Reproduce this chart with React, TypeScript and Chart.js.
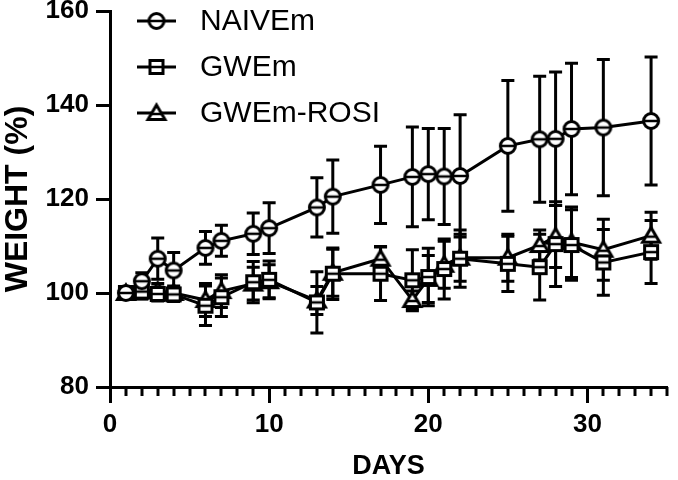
import React, { useEffect, useRef } from "react";
import { Chart, registerables } from "chart.js";
Chart.register(...registerables);

const days = [1, 2, 3, 4, 6, 7, 9, 10, 13, 14, 17, 19, 20, 21, 22, 25, 27, 28, 29, 31, 34];
const naiveMean = [100, 102.5, 107.3, 104.8, 109.6, 111.1, 112.6, 113.8, 118.2, 120.5, 123.0, 124.7, 125.3, 124.8, 124.9, 131.3, 132.7, 132.8, 134.9, 135.2, 136.6];
const naiveSd = [0, 1.8, 4.4, 3.8, 3.5, 3.3, 4.4, 5.4, 6.3, 7.8, 8.2, 10.6, 9.7, 10.2, 13.0, 13.9, 13.4, 14.2, 14.0, 14.5, 13.6];
const gwemMean = [100, 100.3, 99.8, 99.7, 97.3, 99.1, 102.3, 102.8, 98.0, 104.1, 104.1, 102.7, 103.4, 105.1, 107.3, 106.2, 105.5, 110.4, 110.2, 106.5, 108.7];
const gwemSd = [0, 1.5, 1.5, 1.5, 4.2, 4.1, 4.4, 4.0, 6.5, 5.5, 5.7, 6.5, 6.1, 6.4, 6.1, 5.9, 7.0, 9.0, 7.5, 7.0, 6.7];
const rosiMean = [100, 100.5, 100.5, 100, 98.5, 100.4, 102, 102.5, 98.4, 104.3, 107.3, 98.5, 103, 106, 107.5, 107.5, 110.2, 112, 110.8, 109.2, 112.2];
const rosiSd = [0, 1.8, 1.5, 1.5, 3.5, 3.5, 3.5, 3.5, 3.0, 5.0, 2.6, 1.9, 5.0, 5.0, 5.0, 5.0, 3.2, 6.6, 7.5, 6.5, 5.0];

const seriesNames = ["NAIVEm", "GWEm", "GWEm-ROSI"];
const seriesMarkers = ["circle", "square", "triangle"];
const xTickValues = [0, 10, 20, 30];
const yTickValues = [80, 100, 120, 140, 160];
const xTitle = "DAYS";
const yTitle = "WEIGHT (%)";

const meanSets = [naiveMean, gwemMean, rosiMean];
const sdSets = [naiveSd, gwemSd, rosiSd];

const FONT = '"Liberation Sans", Arial, Helvetica, sans-serif';

function makeMarker(kind: string): HTMLCanvasElement {
  const c = document.createElement("canvas");
  const s = 24;
  c.width = s;
  c.height = s;
  const ctx = c.getContext("2d")!;
  ctx.lineWidth = 3;
  ctx.strokeStyle = "#000";
  ctx.fillStyle = "#fff";
  const m = s / 2;
  ctx.beginPath();
  if (kind === "circle") {
    ctx.arc(m, m, 7.5, 0, Math.PI * 2);
  } else if (kind === "square") {
    ctx.rect(m - 6.5, m - 6.5, 13, 13);
  } else {
    ctx.moveTo(m, m - 8);
    ctx.lineTo(m + 8.5, m + 6.5);
    ctx.lineTo(m - 8.5, m + 6.5);
    ctx.closePath();
  }
  ctx.fill();
  ctx.stroke();
  ctx.beginPath();
  ctx.lineWidth = 2.5;
  const hw = kind === "triangle" ? 5 : 7;
  const hy = kind === "triangle" ? m + 1 : m;
  ctx.moveTo(m - hw, hy);
  ctx.lineTo(m + hw, hy);
  ctx.stroke();
  return c;
}

export default function App() {
  const ref = useRef<HTMLCanvasElement | null>(null);

  useEffect(() => {
    const canvas = ref.current;
    if (!canvas) return;
    const markers = seriesMarkers.map((k) => makeMarker(k));

    const errorBars = {
      id: "errorBars",
      beforeDatasetsDraw(chart: any) {
        const { ctx, scales } = chart;
        const x = scales.x;
        const y = scales.y;
        ctx.save();
        ctx.strokeStyle = "#000";
        ctx.lineWidth = 3;
        const cap = 6.5;
        sdSets.forEach((sd, di) => {
          const means = meanSets[di];
          days.forEach((d, i) => {
            if (!sd[i]) return;
            const px = x.getPixelForValue(d);
            const top = y.getPixelForValue(means[i] + sd[i]);
            const bot = y.getPixelForValue(means[i] - sd[i]);
            ctx.beginPath();
            ctx.moveTo(px, top);
            ctx.lineTo(px, bot);
            ctx.moveTo(px - cap, top);
            ctx.lineTo(px + cap, top);
            ctx.moveTo(px - cap, bot);
            ctx.lineTo(px + cap, bot);
            ctx.stroke();
          });
        });
        ctx.restore();
      },
    };

    const minorTicks = {
      id: "minorTicks",
      afterDraw(chart: any) {
        const { ctx, scales, chartArea } = chart;
        const x = scales.x;
        ctx.save();
        ctx.strokeStyle = "#000";
        ctx.lineWidth = 3;
        for (let d = x.min + 1; d <= x.max; d++) {
          if (d % 10 === 0) continue;
          const px = Math.round(x.getPixelForValue(d));
          ctx.beginPath();
          ctx.moveTo(px, chartArea.bottom);
          ctx.lineTo(px, chartArea.bottom + 9);
          ctx.stroke();
        }
        ctx.restore();
      },
    };

    const legend = {
      id: "customLegend",
      afterDraw(chart: any) {
        const { ctx } = chart;
        const rows = [21, 67, 113];
        ctx.save();
        seriesNames.forEach((name, i) => {
          const ry = rows[i];
          ctx.strokeStyle = "#000";
          ctx.lineWidth = 3;
          ctx.beginPath();
          ctx.moveTo(137, ry);
          ctx.lineTo(176, ry);
          ctx.stroke();
          const mk = markers[i];
          ctx.drawImage(mk, 156.5 - mk.width / 2, ry - mk.height / 2);
          ctx.fillStyle = "#000";
          ctx.font = `30px ${FONT}`;
          ctx.textBaseline = "middle";
          ctx.textAlign = "left";
          ctx.fillText(name, 200, ry + 1);
        });
        ctx.restore();
      },
    };

    const chart = new Chart(canvas, {
      type: "line",
      data: {
        datasets: seriesNames.map((name, i) => ({
          label: name,
          data: days.map((d, j) => ({ x: d, y: meanSets[i][j] })),
          borderColor: "#000",
          backgroundColor: "#fff",
          borderWidth: 3,
          pointStyle: markers[i] as any,
          pointRadius: 8,
          tension: 0,
          fill: false,
        })),
      },
      options: {
        responsive: false,
        animation: false,
        devicePixelRatio: 1,
        layout: { padding: { top: 10, right: 5, left: 0, bottom: 0 } },
        plugins: { legend: { display: false }, tooltip: { enabled: false } },
        scales: {
          x: {
            type: "linear",
            min: 0,
            max: 35,
            afterBuildTicks(s: any) {
              s.ticks = xTickValues.map((v) => ({ value: v }));
            },
            afterFit(s: any) {
              s.height = 93;
              s.paddingLeft = 0;
              s.paddingRight = 0;
            },
            ticks: {
              color: "#000",
              font: { family: FONT, size: 26, weight: "bold" },
              padding: 6,
              maxRotation: 0,
              autoSkip: false,
            },
            grid: { drawOnChartArea: false, tickLength: 16, tickWidth: 3, tickColor: "#000" },
            border: { color: "#000", width: 3 },
            title: {
              display: true,
              text: xTitle,
              color: "#000",
              font: { family: FONT, size: 27, weight: "bold", lineHeight: 1 },
              padding: { top: 0, bottom: 0 },
            },
          },
          y: {
            min: 80,
            max: 160,
            afterBuildTicks(s: any) {
              s.ticks = yTickValues.map((v) => ({ value: v }));
            },
            afterFit(s: any) {
              s.width = 110;
              s.paddingTop = 0;
              s.paddingBottom = 0;
            },
            ticks: {
              color: "#000",
              font: { family: FONT, size: 26, weight: "bold" },
              padding: 7,
            },
            grid: { drawOnChartArea: false, tickLength: 14, tickWidth: 3, tickColor: "#000" },
            border: { color: "#000", width: 3 },
            title: {
              display: true,
              text: yTitle,
              color: "#000",
              font: { family: FONT, size: 32, weight: "bold", lineHeight: 1 },
              padding: { top: 2, bottom: 0 },
            },
          },
        },
      },
      plugins: [errorBars, minorTicks, legend],
    });
    return () => chart.destroy();
  }, []);

  return (
    <div style={{ position: "fixed", left: 0, top: 0, width: 678, height: 480, background: "#fff" }}>
      <canvas ref={ref} width={678} height={480} style={{ display: "block" }} />
    </div>
  );
}
